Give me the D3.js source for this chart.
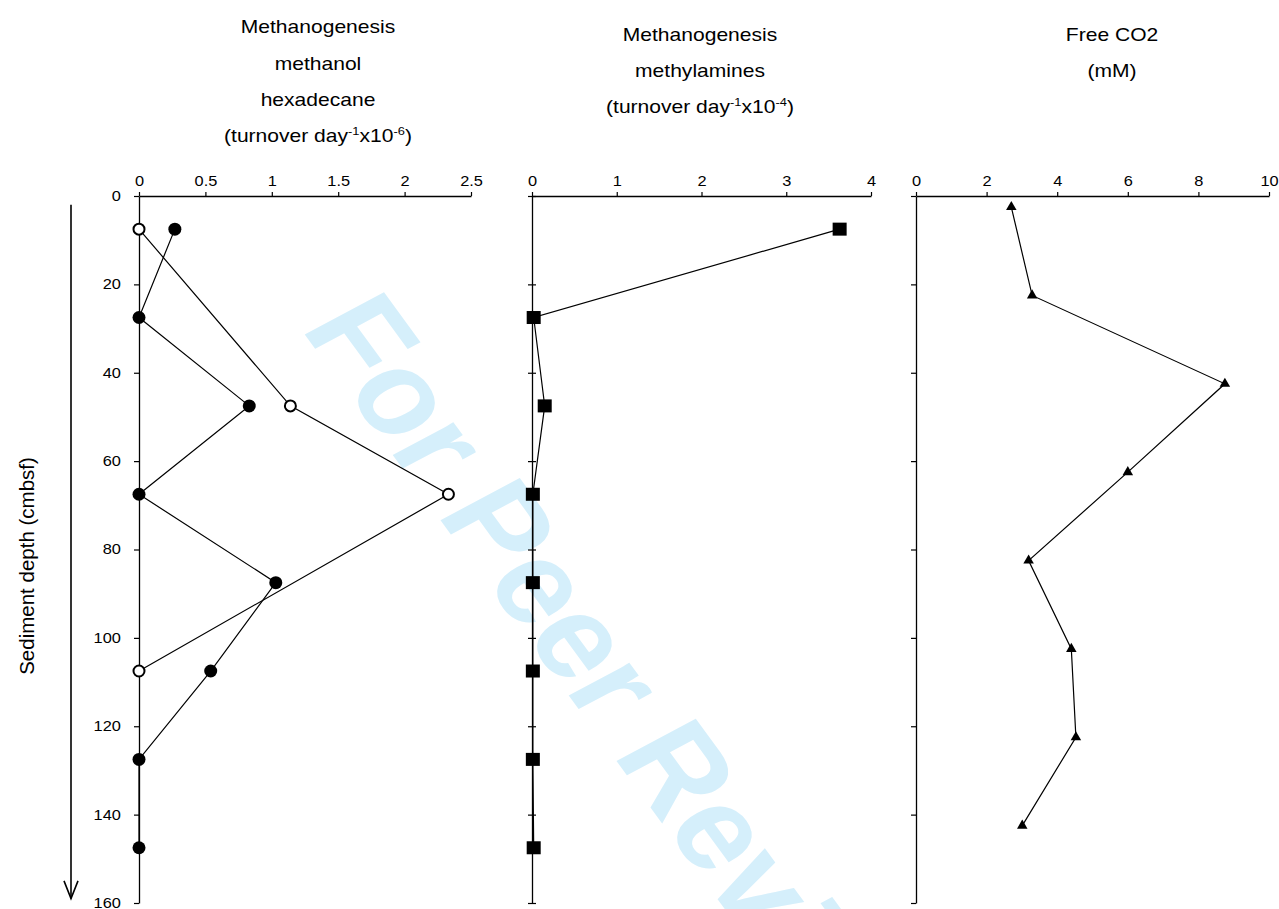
<!DOCTYPE html>
<html>
<head>
<meta charset="utf-8">
<script src="https://cdn.jsdelivr.net/npm/d3@7"></script>
<style>
  body { margin: 0; background: #fff; }
  svg { font-family: "Liberation Sans", Arial, sans-serif; }
</style>
</head>
<body>
<svg id="chart" width="1279" height="909"></svg>
<script>
// sample depths (cmbsf) and the three profiles
const rateDepths   = [7.5, 27.5, 47.5, 67.5, 87.5, 107.5, 127.5, 147.5];
const methanol     = [0.27, 0, 0.83, 0, 1.03, 0.54, 0, 0];
const hexDepths    = [7.5, 47.5, 67.5, 107.5];
const hexadecane   = [0, 1.14, 2.33, 0];
const methylamines = [3.63, 0.02, 0.15, 0.01, 0.01, 0.01, 0.01, 0.02];
const co2Depths    = [2.5, 22.5, 42.5, 62.5, 82.5, 102.5, 122.5, 142.5];
const freeCO2      = [2.7, 3.29, 8.75, 6.0, 3.19, 4.4, 4.53, 3.01];

// tick values
const depthTicks = [0, 20, 40, 60, 80, 100, 120, 140, 160];
const ticksA = [0, 0.5, 1, 1.5, 2, 2.5];
const ticksB = [0, 1, 2, 3, 4];
const ticksC = [0, 2, 4, 6, 8, 10];

const SX = 1.17; // source image is stretched a bit horizontally
const svg = d3.select('#chart');

// watermark behind everything (stretched like the rest)
svg.append('text')
    .attr('transform', `scale(${SX},1) translate(${300 / SX},328) rotate(58)`)
    .attr('font-size', 116)
    .attr('font-weight', 'bold')
    .attr('fill', '#d5effb')
    .text('For Peer Review');

const y = d3.scaleLinear().domain([0, 160]).range([196, 903]);
const xA = d3.scaleLinear().domain([0, 2.5]).range([139, 471]);
const xB = d3.scaleLinear().domain([0, 4]).range([532, 871]);
const xC = d3.scaleLinear().domain([0, 10]).range([916, 1269]);

function topAxis(x, ticks) {
    const g = svg.append('g')
        .attr('transform', `translate(0,${y(0)})`)
        .call(d3.axisTop(x).tickValues(ticks).tickFormat(d => String(d))
            .tickSizeInner(4).tickSizeOuter(0).tickPadding(6));
    g.select('.domain').attr('stroke', '#000').attr('stroke-width', 1.3);
    g.selectAll('line').attr('stroke', '#000').attr('stroke-width', 1.2);
    g.selectAll('text')
        .attr('font-size', 14).attr('fill', '#000')
        .attr('font-family', '"Liberation Sans", Arial, sans-serif')
        .attr('transform', `scale(${SX},1)`);
    return g;
}

function leftAxis(x0, labels, cross) {
    const ax = d3.axisLeft(y).tickValues(depthTicks).tickSizeOuter(0)
        .tickSizeInner(cross ? 4 : 5).tickPadding(10.5);
    if (!labels) ax.tickFormat('');
    const g = svg.append('g').attr('transform', `translate(${x0},0)`).call(ax);
    g.select('.domain').attr('stroke', '#000').attr('stroke-width', 1.3);
    g.selectAll('line').attr('stroke', '#000').attr('stroke-width', 1.2);
    if (cross) g.selectAll('.tick line').attr('x1', 4);
    g.selectAll('text')
        .attr('font-size', 14).attr('fill', '#000')
        .attr('font-family', '"Liberation Sans", Arial, sans-serif')
        .attr('transform', `scale(${SX},1)`);
    return g;
}

topAxis(xA, ticksA);
topAxis(xB, ticksB);
topAxis(xC, ticksC);
leftAxis(xA(0), true, false);
leftAxis(xB(0), false, true);
leftAxis(xC(0), false, false);

// titles, each line is an array of [text, isSuperscript]
function title(cx, baselines, lines) {
    lines.forEach((parts, i) => {
        const t = svg.append('text')
            .attr('transform', `translate(${cx},${baselines[i]}) scale(${SX},1)`)
            .attr('text-anchor', 'middle')
            .attr('font-size', 18)
            .attr('fill', '#000');
        parts.forEach(([s, sup]) => {
            t.append('tspan')
                .attr('font-size', sup ? 11 : 18)
                .attr('baseline-shift', sup ? '7' : null)
                .text(s);
        });
    });
}

title(318, [33, 70, 106, 142], [
    [['Methanogenesis']],
    [['methanol']],
    [['hexadecane']],
    [['(turnover day'], ['-1', true], ['x10'], ['-6', true], [')']]
]);
title(700, [41, 77, 113], [
    [['Methanogenesis']],
    [['methylamines']],
    [['(turnover day'], ['-1', true], ['x10'], ['-4', true], [')']]
]);
title(1112, [41, 77], [
    [['Free CO2']],
    [['(mM)']]
]);

// y label and depth arrow
svg.append('text')
    .attr('transform', 'translate(34,566) rotate(-90)')
    .attr('text-anchor', 'middle')
    .attr('font-size', 20.5)
    .attr('fill', '#000')
    .text('Sediment depth (cmbsf)');

const arrowX = 71;
svg.append('line')
    .attr('x1', arrowX).attr('x2', arrowX)
    .attr('y1', y(2)).attr('y2', y(159))
    .attr('stroke', '#000').attr('stroke-width', 1.6);
svg.append('path')
    .attr('d', `M${arrowX - 7},${y(155)} L${arrowX},${y(159)} L${arrowX + 7},${y(155)}`)
    .attr('fill', 'none').attr('stroke', '#000').attr('stroke-width', 1.6);

// series
function profile(x, depths, values) {
    const pts = depths.map((d, i) => ({ d, v: values[i] }));
    svg.append('path')
        .datum(pts)
        .attr('fill', 'none')
        .attr('stroke', '#000')
        .attr('stroke-width', 1.2)
        .attr('d', d3.line().x(p => x(p.v)).y(p => y(p.d)));
    return pts;
}

const hexPts = profile(xA, hexDepths, hexadecane);
const methPts = profile(xA, rateDepths, methanol);
const amPts = profile(xB, rateDepths, methylamines);
const co2Pts = profile(xC, co2Depths, freeCO2);

svg.append('g').selectAll('circle')
    .data(hexPts).enter().append('circle')
    .attr('cx', p => xA(p.v)).attr('cy', p => y(p.d))
    .attr('r', 5.5)
    .attr('fill', '#fff').attr('stroke', '#000').attr('stroke-width', 2);

svg.append('g').selectAll('circle')
    .data(methPts).enter().append('circle')
    .attr('cx', p => xA(p.v)).attr('cy', p => y(p.d))
    .attr('r', 6.5)
    .attr('fill', '#000');

svg.append('g').selectAll('rect')
    .data(amPts).enter().append('rect')
    .attr('x', p => xB(p.v) - 7).attr('y', p => y(p.d) - 6.5)
    .attr('width', 14).attr('height', 13)
    .attr('fill', '#000');

svg.append('g').selectAll('path')
    .data(co2Pts).enter().append('path')
    .attr('transform', p => `translate(${xC(p.v)},${y(p.d)})`)
    .attr('d', d3.symbol(d3.symbolTriangle).size(48))
    .attr('fill', '#000');
</script>
</body>
</html>
